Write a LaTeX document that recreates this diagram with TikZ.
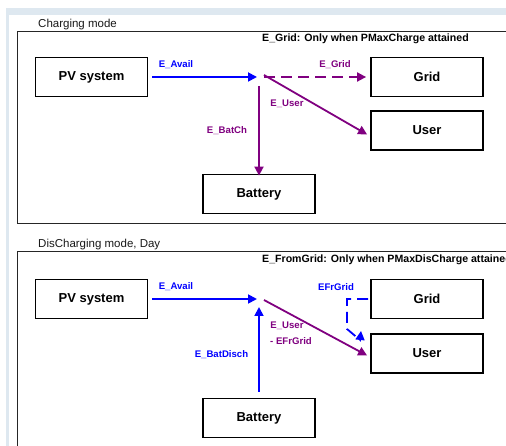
\documentclass[tikz,border=0pt]{standalone}
\usepackage{fontspec}
\setmainfont{Liberation Sans}
\usepackage{tikz}
\usetikzlibrary{arrows.meta,positioning}
\definecolor{flowblue}{RGB}{0,0,255}
\definecolor{flowpurple}{RGB}{128,0,128}
\definecolor{frameband}{RGB}{222,232,240}

\begin{document}
\begin{tikzpicture}[x=1pt, y=-1pt, unit/.style={draw=black, line width=1.8pt, fill=white, minimum width=112pt, minimum height=39pt, align=center, font=\fontsize{13}{15}\selectfont\bfseries}, flowlbl/.style={font=\fontsize{9.6}{11}\selectfont\bfseries, inner sep=0pt}, notelbl/.style={font=\fontsize{10.6}{12}\selectfont\bfseries, anchor=west, inner sep=0pt}, paneltitle/.style={font=\fontsize{11.5}{13}\selectfont, text=black!90, anchor=west, inner sep=0pt}, arr/.style={-{Triangle[length=9pt, width=9pt]}, line width=1.8pt}, dashflow/.style={dash pattern=on 11pt off 6pt}
]
  \useasboundingbox (0,0) rectangle (506,446);
  \fill[frameband] (6,8) rectangle (506,446);
  \fill[white] (9,15) rectangle (506,446);
  \draw[line width=1pt, black!85] (506,32) -- (17,32) -- (17,224) -- (506,224);
  \draw[line width=1pt, black!85] (506,252) -- (17,252) -- (17,446);
  \node[paneltitle] (title1) at (38,25) {Charging mode};
  \node[paneltitle] (title2) at (38,245) {DisCharging mode, Day};
  \node[notelbl] (note1) at (262,39) {E\_Grid: Only when PMaxCharge attained};
  \node[notelbl] (note2) at (262,260) {E\_FromGrid: Only when PMaxDisCharge attained};

  \node[unit] (pv1) at (91.5,77) {PV system};
  \node[unit] (grid1) at (427,77) {Grid};
  \node[unit] (user1) at (427,130.5) {User};
  \node[unit] (bat1) at (259,194) {Battery};
  \coordinate (hub1in) at (257,77);
  \coordinate (hub1out) at (264,77);
  \coordinate (hub1dn) at (259,86);
  \draw[arr, flowblue] ([xshift=4pt]pv1.east) -- (hub1in);
  \draw[arr, dashflow, flowpurple] (hub1out) -- ([xshift=-4pt]grid1.west);
  \draw[arr, flowpurple] ([yshift=2pt]hub1out) -- ([xshift=-3pt, yshift=-4pt]user1.west);
  \draw[arr, flowpurple] (hub1dn) -- ([yshift=-2pt]bat1.north);
  \node[flowlbl, flowblue] (avail1) at (176,65) {E\_Avail};
  \node[flowlbl, flowpurple] (egrid1) at (335,65) {E\_Grid};
  \node[flowlbl, flowpurple] (euser1) at (287,104) {E\_User};
  \node[flowlbl, flowpurple] (batch1) at (227,131) {E\_BatCh};

  \node[unit] (pv2) at (91.5,299) {PV system};
  \node[unit] (grid2) at (427,299) {Grid};
  \node[unit] (user2) at (427,353.5) {User};
  \node[unit] (bat2) at (259,418) {Battery};
  \coordinate (hub2in) at (257,299);
  \coordinate (hub2out) at (264,300);
  \coordinate (hub2up) at (259,307);
  \coordinate (gbend) at (347,329);
  \coordinate (gfoot) at (360,340);
  \coordinate (user2in) at (361,331);
  \draw[arr, flowblue] ([xshift=4pt]pv2.east) -- (hub2in);
  \draw[arr, flowblue] ([yshift=6pt]bat2.north) -- (hub2up);
  \draw[arr, flowpurple] (hub2out) -- ([xshift=-3pt, yshift=-2pt]user2.west);
  \draw[arr, dashflow, flowblue] ([xshift=-2pt]grid2.west) -| (gbend) -- (gfoot) -- (user2in);
  \node[flowlbl, flowblue] (avail2) at (176,287) {E\_Avail};
  \node[flowlbl, flowblue] (efr2) at (336,287) {EFrGrid};
  \node[flowlbl, flowpurple] (euser2) at (287,326) {E\_User};
  \node[flowlbl, flowpurple] (efrm2) at (291,341) {- EFrGrid};
  \node[flowlbl, flowblue] (disch2) at (221.5,355) {E\_BatDisch};
\end{tikzpicture}
\end{document}
